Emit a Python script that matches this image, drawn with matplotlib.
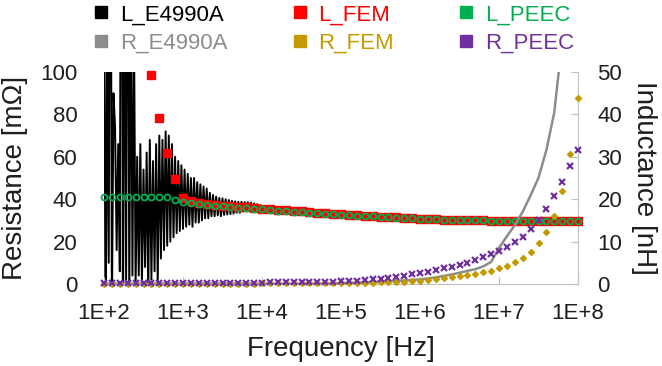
import numpy as np
import matplotlib
matplotlib.use("Agg")
import matplotlib.pyplot as plt
from matplotlib.lines import Line2D
from matplotlib.ticker import FixedLocator, FuncFormatter, NullLocator

plt.rcParams['font.family'] = ['Liberation Sans', 'DejaVu Sans']

# ---------------- data ----------------
# Model frequency grid: log10(f) from 2.0 to 8.0, 10 points per decade
model_exp = np.round(np.arange(2.0, 8.0001, 0.1), 2)

# PEEC inductance [nH]
L_peec = [20.6, 20.6, 20.6, 20.6, 20.6, 20.6, 20.6, 20.6, 20.5, 19.8,
          19.4, 19.0, 18.8, 18.6, 18.45, 18.3, 18.2, 18.0, 17.9, 17.75,
          17.6, 17.45, 17.3, 17.2, 17.05, 16.95, 16.8, 16.7, 16.55, 16.45,
          16.35, 16.25, 16.15, 16.05, 15.95, 15.85, 15.75, 15.65, 15.55, 15.45,
          15.4, 15.3, 15.25, 15.2, 15.15, 15.1, 15.05, 15.0, 15.0, 14.95,
          14.95, 14.95, 14.9, 14.9, 14.9, 14.9, 14.9, 14.9, 14.9, 14.9, 14.9]

# FEM inductance [nH] (from 10^2.6 Hz; lower frequencies lie above the range)
fem_L_exp = model_exp[6:]
L_fem = [49.3, 39.2, 31.0, 24.7,
         20.3, 19.6, 19.2, 18.9, 18.7, 18.5, 18.35, 18.2, 18.05, 17.9,
         17.8, 17.65, 17.5, 17.4, 17.25, 17.1, 17.0, 16.85, 16.7, 16.6,
         16.45, 16.35, 16.2, 16.1, 16.0, 15.9, 15.8, 15.7, 15.6, 15.5,
         15.4, 15.35, 15.3, 15.2, 15.15, 15.1, 15.05, 15.0, 15.0, 14.95,
         14.95, 14.95, 14.9, 14.9, 14.9, 14.9, 14.9, 14.9, 14.9, 14.9, 14.9]

# FEM resistance [mOhm]
R_fem = [0.2, 0.2, 0.2, 0.2, 0.2, 0.2, 0.2, 0.2, 0.2, 0.2,
         0.2, 0.2, 0.2, 0.2, 0.2, 0.2, 0.2, 0.2, 0.2, 0.2,
         0.25, 0.25, 0.25, 0.25, 0.3, 0.3, 0.3, 0.3, 0.35, 0.35,
         0.4, 0.45, 0.5, 0.55, 0.65, 0.75, 0.85, 1.0, 1.15, 1.35,
         1.6, 1.9, 2.2, 2.7, 3.2, 3.8, 4.2, 4.7, 5.5, 6.3,
         7.4, 8.6, 10.2, 12.4, 15.0, 19.2, 24.4, 32.2, 44.0, 61.2, 87.9]

# PEEC resistance [mOhm]
R_peec = [0.4, 0.4, 0.4, 0.4, 0.4, 0.4, 0.45, 0.45, 0.45, 0.5,
          0.5, 0.5, 0.55, 0.55, 0.6, 0.6, 0.6, 0.65, 0.65, 0.7,
          0.7, 0.75, 0.75, 0.8, 0.8, 0.85, 0.85, 0.9, 0.95, 1.1,
          1.3, 1.4, 1.6, 1.9, 2.2, 2.5, 3.0, 3.5, 3.9, 4.6,
          5.3, 5.8, 6.6, 7.4, 8.2, 9.0, 10.1, 11.3, 12.6, 14.2,
          15.6, 17.3, 19.7, 22.3, 25.8, 30.2, 35.4, 41.7, 48.3, 55.7, 63.2]

# E4990A measured inductance [nH]: 50 points per decade below 10^4 Hz,
# 10 points per decade above
meas_exp_low = np.round(2.0 + np.arange(100) * 0.02, 3)
meas_exp_high = np.round(np.arange(4.0, 8.0001, 0.1), 2)
L_meas_low = [95, -20, 60, 5, 130, -8, 45, 37, 8, 33,
              3, 150, -15, 90, 0, 120, -5, 75, 2, 60,
              -1, 30, 2, 33, 0, 27, 4, 31, -2, 34,
              1, 29, 3, 33, 0, 35, 6, 34, 8, 36,
              9, 35, 10, 33, 11, 30, 12, 29, 12.5, 28,
              13, 27, 13.5, 26, 14, 25, 13.5, 25, 14.5, 24,
              14.5, 23.5, 15, 23, 15.5, 22.5, 15.5, 21.5, 16, 21,
              16, 20.6, 16.2, 20.3, 16, 20.2, 16.3, 20, 16.4, 19.8,
              16.5, 19.6, 16.6, 19.5, 16.8, 19.4, 16.8, 19.4, 17.1, 19.3,
              17.2, 19.3, 17.4, 19.2, 17.5, 19.0, 17.6, 18.8, 17.8, 18.6]
L_meas_high = [18.0, 17.8,
               17.6, 17.45, 17.3, 17.15, 17.0, 16.85, 16.75, 16.6, 16.5, 16.4,
               16.3, 16.2, 16.1, 16.0, 15.9, 15.8, 15.7, 15.6, 15.5, 15.4,
               15.35, 15.3, 15.2, 15.15, 15.1, 15.05, 15.0, 15.0, 14.95, 14.95,
               14.95, 14.9, 14.9, 14.9, 14.9, 14.9, 14.9, 14.9, 14.9]

# E4990A measured resistance [mOhm]
meas_R_exp = model_exp[:59]
R_meas = [0.2, 0.2, 0.2, 0.2, 0.2, 0.2, 0.2, 0.2, 0.2, 0.2,
          0.2, 0.2, 0.2, 0.2, 0.2, 0.2, 0.2, 0.2, 0.2, 0.2,
          0.2, 0.2, 0.2, 0.2, 0.2, 0.2, 0.25, 0.25, 0.3, 0.3,
          0.45, 0.55, 0.65, 0.75, 0.9, 1.05, 1.25, 1.4, 1.6, 1.9,
          2.2, 2.6, 3.1, 3.8, 4.5, 5.3, 6.2, 7.0, 8.3, 10.4,
          17.0, 22.5, 27.8, 34.1, 41.8, 50.1, 63.2, 81.0, 115.0]

tick_exps = [2, 3, 4, 5, 6, 7, 8]
tick_labels = ["1E+2", "1E+3", "1E+4", "1E+5", "1E+6", "1E+7", "1E+8"]

# ---------------- colours ----------------
C_LMEAS = "#000000"
C_RMEAS = "#8C8C8C"
C_LFEM = "#FF0000"
C_RFEM = "#C49A00"
C_LPEEC = "#00B050"
C_RPEEC = "#7030A0"
TXT = "#1E1E1E"
AX = "#BFBFBF"

# ---------------- figure ----------------
fig = plt.figure(figsize=(6.62, 3.66), dpi=100)
axR = fig.add_axes([104 / 662, 1 - 284 / 366, (578 - 104) / 662, (284 - 72) / 366])
axL = axR.twinx()
axL.set_zorder(1)
axR.set_zorder(2)
axR.patch.set_visible(False)

# inductance (right axis)
axL.plot(10 ** np.concatenate([meas_exp_low, meas_exp_high]),
         L_meas_low + L_meas_high, color=C_LMEAS, lw=1.4, zorder=2)
axL.plot(10 ** fem_L_exp, L_fem, ls="none", marker="s", ms=5.2, color=C_LFEM,
         zorder=3, clip_on=False)
axL.plot(10 ** model_exp, L_peec, ls="none", marker="o", ms=4.3, mew=1.3,
         mfc="none", mec=C_LPEEC, zorder=4, clip_on=False)

# resistance (left axis)
axR.plot(10 ** meas_R_exp, R_meas, color=C_RMEAS, lw=1.8, zorder=2)
axR.plot(10 ** model_exp, R_fem, ls="none", marker="D", ms=3.0, color=C_RFEM,
         zorder=3, clip_on=False)
axR.plot(10 ** model_exp, R_peec, ls="none", marker="x", ms=4.5, mew=1.6,
         color=C_RPEEC, zorder=4, clip_on=False)

for ax in (axR, axL):
    ax.set_xscale("log")
    ax.set_xlim(1e2, 1e8)
    for s in ax.spines.values():
        s.set_visible(False)

axR.set_ylim(0, 100)
axL.set_ylim(0, 50)

axR.spines["bottom"].set_visible(True)
axR.spines["bottom"].set_color(AX)
axL.spines["right"].set_visible(True)
axL.spines["right"].set_color(AX)

axR.xaxis.set_major_locator(FixedLocator([10.0 ** e for e in tick_exps]))
axR.xaxis.set_major_formatter(FuncFormatter(
    lambda v, p: tick_labels[tick_exps.index(int(round(np.log10(v))))]))
axR.xaxis.set_minor_locator(NullLocator())
axR.tick_params(axis="x", direction="in", length=5, color=AX, labelsize=16,
                labelcolor=TXT, pad=14)
axR.set_yticks([0, 20, 40, 60, 80, 100])
axR.tick_params(axis="y", length=0, labelsize=16, labelcolor=TXT, pad=19)

axL.set_yticks([0, 10, 20, 30, 40, 50])
axL.tick_params(axis="y", direction="in", length=5, color=AX, labelsize=16,
                labelcolor=TXT, pad=14)
axL.tick_params(axis="x", which="both", bottom=False, top=False,
                labelbottom=False, labeltop=False)

axR.set_xlabel("Frequency [Hz]", fontsize=20, color=TXT, labelpad=8)
axR.set_ylabel("Resistance [mΩ]", fontsize=20, color=TXT, labelpad=9)
axL.set_ylabel("Inductance [nH]", fontsize=20, color=TXT, rotation=270,
               labelpad=25)

# legend: three columns, two rows
handles = [Line2D([0], [0], ls="none", marker="s", ms=8, color=c)
           for c in (C_LMEAS, C_RMEAS, C_LFEM, C_RFEM, C_LPEEC, C_RPEEC)]
labels = ["L_E4990A", "R_E4990A", "L_FEM", "R_FEM", "L_PEEC", "R_PEEC"]
fig.legend(handles, labels, ncol=3, loc="upper left",
           bbox_to_anchor=(91 / 662, 1 - 2 / 366), frameon=False, fontsize=16,
           labelcolor=[C_LMEAS, C_RMEAS, C_LFEM, C_RFEM, C_LPEEC, C_RPEEC],
           handlelength=0.7, handletextpad=0.5, columnspacing=2.9,
           labelspacing=0.35, borderaxespad=0.0, borderpad=0.1)

fig.savefig("out.png", dpi=100)
